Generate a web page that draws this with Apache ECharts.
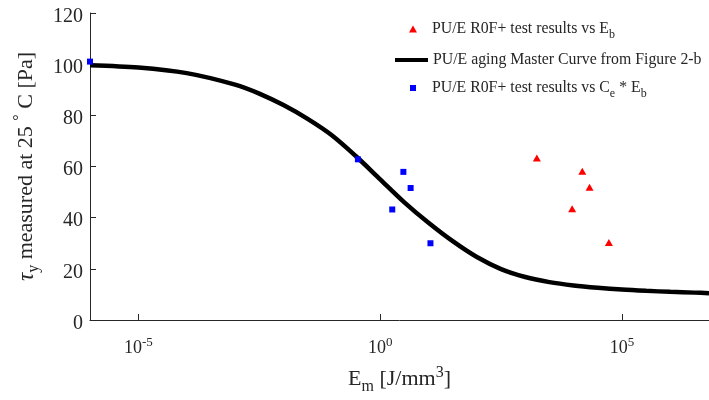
<!DOCTYPE html>
<html>
<head>
<meta charset="utf-8">
<script src="https://cdn.jsdelivr.net/npm/echarts@6/dist/echarts.min.js"></script>
<style>
  html, body { margin: 0; padding: 0; background: #fff; }
  #chart { width: 709px; height: 400px; }
</style>
</head>
<body>
<div id="chart"></div>
<script>
// master curve (log10 of Em, tau_y)
var curveExp = [-6, -5, -4, -3, -2.5, -2, -1.5, -1, -0.5, 0, 0.5, 1, 1.5, 2, 2.5, 3, 3.5, 4, 4.5, 5, 5.5, 6, 6.5, 6.8];
var curveTau = [99.6, 98.7, 96.5, 92.0, 88.5, 84.0, 78.6, 72.2, 64.0, 55.0, 46.0, 38.0, 30.8, 24.6, 19.9, 16.8, 14.8, 13.5, 12.6, 11.9, 11.4, 11.0, 10.7, 10.5];

// PU/E R0F+ test results vs Eb (red triangles)
var ebExp = [3.24, 4.18, 4.33, 3.97, 4.73];
var ebTau = [63.3, 58.1, 51.9, 43.5, 30.3];

// PU/E R0F+ test results vs Ce * Eb (blue squares)
var ceExp = [-6.0, -0.46, 0.48, 0.63, 0.25, 1.04];
var ceTau = [101, 62.8, 57.9, 51.6, 43.2, 30.0];

var xTickValues = [1e-5, 1, 1e5];

var nameEb = 'PU/E R0F+ test results vs Eb';
var nameCurve = 'PU/E aging Master Curve from Figure 2-b';
var nameCe = 'PU/E R0F+ test results vs Ce * Eb';

function pairs(exps, vals) {
  return exps.map(function (e, i) { return [Math.pow(10, e), vals[i]]; });
}

var font = 'Liberation Serif';
var ink = '#262626';

var legendRich = {
  n: { fontFamily: font, fontSize: 15.8, color: ink },
  s: { fontFamily: font, fontSize: 12, color: ink, padding: [11, 0, 0, 0] }
};

var legendLabels = {};
legendLabels[nameEb] = '{n|PU/E R0F+ test results vs E}{s|b}';
legendLabels[nameCurve] = '{n|PU/E aging Master Curve from Figure 2-b}';
legendLabels[nameCe] = '{n|PU/E R0F+ test results vs C}{s|e}{n| * E}{s|b}';

function legendAt(name, icon, left, top, w, h, textPad) {
  return {
    data: [{ name: name, icon: icon }],
    left: left,
    top: top,
    padding: 0,
    itemWidth: w,
    itemHeight: h,
    itemGap: 0,
    selectedMode: false,
    formatter: function (n) { return legendLabels[n]; },
    textStyle: { rich: legendRich, padding: [0, 0, 0, textPad] }
  };
}

var chart = echarts.init(document.getElementById('chart'));

chart.setOption({
  animation: false,
  backgroundColor: '#fff',
  textStyle: { fontFamily: font },
  grid: { left: 90, right: 0, top: 13, bottom: 78, containLabel: false },
  legend: [
    legendAt(nameEb, 'triangle', 409, 21, 8, 7, 10),
    legendAt(nameCurve, 'rect', 395, 52, 33, 4, 0),
    legendAt(nameCe, 'rect', 410, 80, 6, 6, 11)
  ],
  xAxis: {
    type: 'log',
    logBase: 10,
    min: 1e-6,
    max: Math.pow(10, 6.8),
    name: '{b|E}{s|m}{b| [J/mm}{u|3}{b|]}',
    nameLocation: 'middle',
    nameGap: 44,
    nameTextStyle: {
      rich: {
        b: { fontFamily: font, fontSize: 22, color: ink },
        s: { fontFamily: font, fontSize: 16, color: ink, padding: [15, 0, 0, 0] },
        u: { fontFamily: font, fontSize: 16, color: ink, padding: [0, 0, 14, 0] }
      }
    },
    axisLine: { lineStyle: { color: ink, width: 1 } },
    axisTick: { inside: true, length: 6, lineStyle: { color: ink }, customValues: xTickValues },
    axisLabel: {
      margin: 16,
      customValues: xTickValues,
      formatter: function (v) {
        return '{b|10}{u|' + Math.round(Math.log10(v)) + '}';
      },
      rich: {
        b: { fontFamily: font, fontSize: 18, color: ink },
        u: { fontFamily: font, fontSize: 13, color: ink, padding: [0, 0, 12, 0] }
      }
    },
    splitLine: { show: false },
    minorTick: { show: false }
  },
  yAxis: {
    type: 'value',
    min: 0,
    max: 120,
    interval: 20,
    name: '{t|τ}{s|y}{b| measured at 25 }{u|°}{b| C [Pa]}',
    nameLocation: 'middle',
    nameRotate: 90,
    nameGap: 45,
    nameTextStyle: {
      rich: {
        t: { fontFamily: font, fontSize: 23, fontStyle: 'italic', color: ink },
        b: { fontFamily: font, fontSize: 22, color: ink },
        s: { fontFamily: font, fontSize: 16, color: ink, padding: [15, 0, 0, 0] },
        u: { fontFamily: font, fontSize: 16, color: ink, padding: [0, 0, 14, 0] }
      }
    },
    axisLine: { show: true, lineStyle: { color: ink, width: 1 } },
    axisTick: { show: true, inside: true, length: 6, lineStyle: { color: ink } },
    axisLabel: {
      margin: 7,
      formatter: function (v) { return '{v|' + v + '}'; },
      rich: { v: { fontFamily: font, fontSize: 20, color: ink, padding: [7, 0, 0, 0] } }
    },
    splitLine: { show: false }
  },
  series: [
    {
      name: nameCurve,
      type: 'line',
      data: pairs(curveExp, curveTau),
      smooth: 0.3,
      showSymbol: false,
      symbol: 'none',
      lineStyle: { color: '#000', width: 4.5 },
      itemStyle: { color: '#000' },
      z: 2
    },
    {
      name: nameEb,
      type: 'scatter',
      data: pairs(ebExp, ebTau),
      symbol: 'triangle',
      symbolSize: [8, 7],
      itemStyle: { color: '#ff0000', opacity: 1 },
      z: 3
    },
    {
      name: nameCe,
      type: 'scatter',
      data: pairs(ceExp, ceTau),
      symbol: 'rect',
      symbolSize: 6,
      clip: false,
      itemStyle: { color: '#0000ff', opacity: 1 },
      z: 3
    }
  ]
});
</script>
</body>
</html>
